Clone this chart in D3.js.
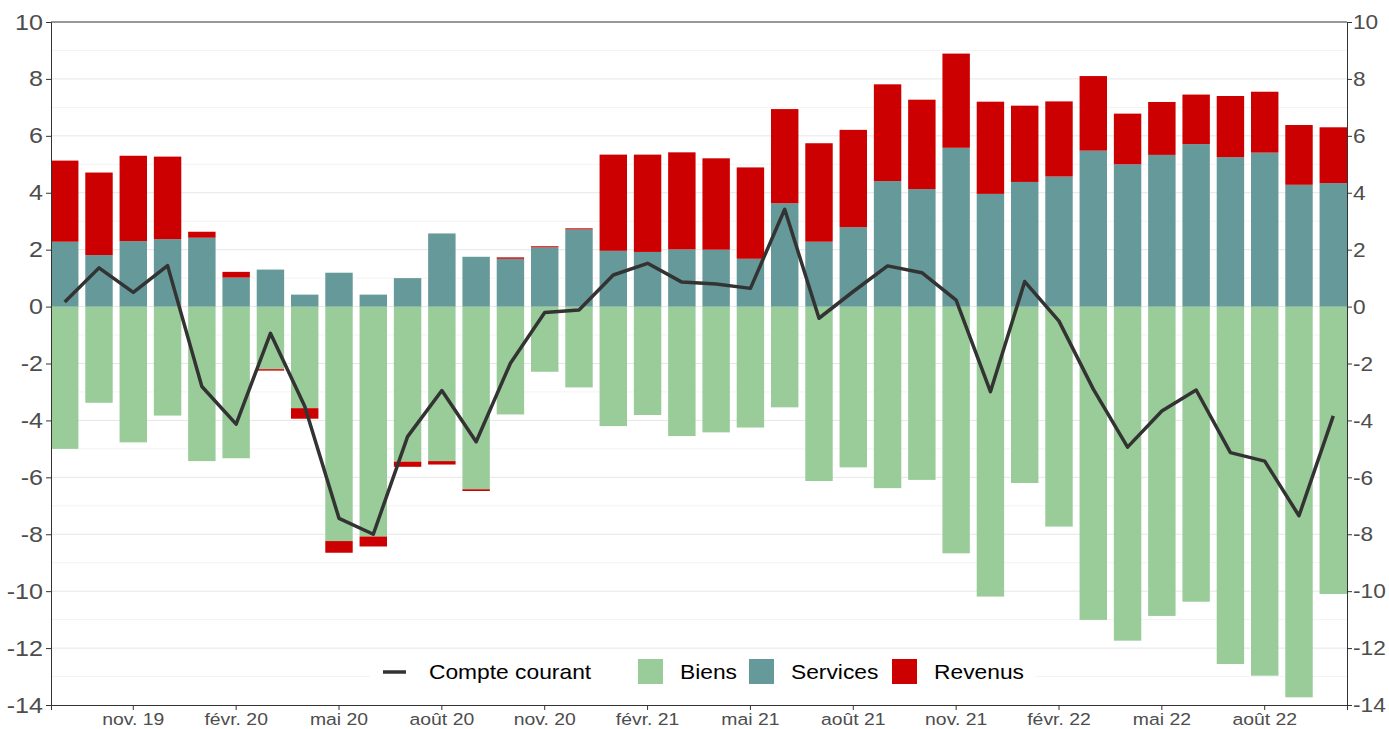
<!DOCTYPE html>
<html lang="fr">
<head>
  <meta charset="UTF-8">
  <title>Balance courante</title>
  <script src="https://d3js.org/d3.v7.min.js"></script>
  <style>
    body { margin: 0; background: #fff; }
    svg { font-family: "Liberation Sans", Arial, sans-serif; }
    .tick text { fill: #4d4d4d; }
    /* the original picture is a little wider than tall, so stretch text a bit */
    .stretch text, text.stretch { transform-box: fill-box; transform: scaleX(1.14); }
    .y-left text { transform-origin: 100% 50%; }
    .y-right text { transform-origin: 0 50%; transform: scaleX(1.08); }
    .x-axis text { transform-origin: 50% 50%; }
    text.stretch { transform-origin: 0 50%; }
  </style>
</head>
<body>
  <div id="chart"></div>

  <script>
    // Data, in points
    const months = ["2019-09","2019-10","2019-11","2019-12","2020-01","2020-02","2020-03","2020-04",
      "2020-05","2020-06","2020-07","2020-08","2020-09","2020-10","2020-11","2020-12",
      "2021-01","2021-02","2021-03","2021-04","2021-05","2021-06","2021-07","2021-08",
      "2021-09","2021-10","2021-11","2021-12","2022-01","2022-02","2022-03","2022-04",
      "2022-05","2022-06","2022-07","2022-08","2022-09","2022-10"];
    const biens = [-5.00,-3.38,-4.77,-3.83,-5.43,-5.33,-2.20,-3.57,-8.24,-8.08,-5.45,-5.43,-6.42,-3.79,-2.29,-2.84,
      -4.20,-3.81,-4.55,-4.42,-4.25,-3.54,-6.13,-5.65,-6.38,-6.09,-8.67,-10.19,-6.20,-7.73,-11.01,-11.74,
      -10.87,-10.37,-12.56,-12.97,-13.73,-10.10];
    const services = [2.28,1.81,2.30,2.37,2.42,1.02,1.30,0.42,1.19,0.42,1.00,2.57,1.75,1.68,2.08,2.71,
      1.96,1.92,2.01,2.00,1.68,3.63,2.28,2.79,4.41,4.13,5.58,3.96,4.38,4.57,5.48,5.00,
      5.33,5.71,5.25,5.41,4.28,4.34];
    const revenus = [2.85,2.90,3.00,2.90,0.21,0.20,-0.05,-0.37,-0.41,-0.35,-0.18,-0.12,-0.06,0.05,0.04,0.04,
      3.38,3.42,3.41,3.21,3.21,3.31,3.46,3.42,3.40,3.14,3.31,3.24,2.68,2.64,2.62,1.78,
      1.86,1.74,2.15,2.14,2.10,1.96];
    const compte = [0.16,1.36,0.50,1.44,-2.81,-4.13,-0.94,-3.50,-7.44,-8.00,-4.57,-2.95,-4.75,-1.99,-0.21,-0.12,
      1.11,1.52,0.86,0.79,0.64,3.42,-0.41,0.53,1.43,1.19,0.23,-2.99,0.88,-0.51,-2.90,-4.94,
      -3.67,-2.93,-5.13,-5.43,-7.35,-3.84];

    const tickMonths = ["2019-11","2020-02","2020-05","2020-08","2020-11","2021-02","2021-05","2021-08",
      "2021-11","2022-02","2022-05","2022-08"];
    const tickLabels = ["nov. 19","févr. 20","mai 20","août 20","nov. 20","févr. 21","mai 21","août 21",
      "nov. 21","févr. 22","mai 22","août 22"];

    const keys = ["Biens", "Services", "Revenus"];
    const colors = { Biens: "#99cc99", Services: "#669999", Revenus: "#cc0000" };

    const width = 1389, height = 729;
    const margin = { top: 22, right: 42, bottom: 24, left: 51 };

    const svg = d3.select("#chart").append("svg")
      .attr("width", width)
      .attr("height", height);

    const x = d3.scaleBand()
      .domain(months)
      .range([margin.left, width - margin.right])
      .paddingInner(0.2)
      .paddingOuter(0);

    const y = d3.scaleLinear()
      .domain([-14, 10])
      .range([height - margin.bottom, margin.top]);

    // grid lines
    const grid = svg.append("g");
    grid.selectAll(".minor")
      .data(d3.range(-13, 10, 2))
      .enter().append("line")
      .attr("x1", margin.left).attr("x2", width - margin.right)
      .attr("y1", d => y(d)).attr("y2", d => y(d))
      .attr("stroke", "#f3f3f3").attr("stroke-width", 1);
    grid.selectAll(".major")
      .data(d3.range(-12, 10, 2))
      .enter().append("line")
      .attr("x1", margin.left).attr("x2", width - margin.right)
      .attr("y1", d => y(d)).attr("y2", d => y(d))
      .attr("stroke", "#e6e6e6").attr("stroke-width", 1);

    // stacked bars
    const rows = months.map((m, i) => ({ month: m, Biens: biens[i], Services: services[i], Revenus: revenus[i] }));
    const series = d3.stack().keys(keys).offset(d3.stackOffsetDiverging)(rows);

    svg.append("g")
      .selectAll("g")
      .data(series)
      .enter().append("g")
      .attr("fill", d => colors[d.key])
      .selectAll("rect")
      .data(d => d)
      .enter().append("rect")
      .attr("x", d => x(d.data.month))
      .attr("width", x.bandwidth())
      .attr("y", d => y(Math.max(d[0], d[1])))
      .attr("height", d => Math.abs(y(d[0]) - y(d[1])));

    // current account line
    const line = d3.line()
      .x((d, i) => x(months[i]) + x.bandwidth() / 2)
      .y(d => y(d));

    svg.append("path")
      .datum(compte)
      .attr("fill", "none")
      .attr("stroke", "#333333")
      .attr("stroke-width", 3.5)
      .attr("stroke-linejoin", "round")
      .attr("d", line);

    // legend box
    const legend = svg.append("g");
    legend.append("rect")
      .attr("x", 370).attr("y", 652)
      .attr("width", 666).attr("height", 40)
      .attr("fill", "white");
    legend.append("line")
      .attr("x1", 383).attr("x2", 406)
      .attr("y1", 672).attr("y2", 672)
      .attr("stroke", "#333333").attr("stroke-width", 3.5);
    legend.append("text")
      .attr("class", "stretch")
      .attr("x", 429).attr("y", 679)
      .style("font-size", "20px")
      .text("Compte courant");
    const legendItems = [
      { key: "Biens", x: 638 },
      { key: "Services", x: 749 },
      { key: "Revenus", x: 892 }
    ];
    legendItems.forEach(it => {
      legend.append("rect")
        .attr("x", it.x).attr("y", 659)
        .attr("width", 25).attr("height", 25)
        .attr("fill", colors[it.key]);
      legend.append("text")
        .attr("class", "stretch")
        .attr("x", it.x + 42).attr("y", 679)
        .style("font-size", "20px")
        .text(it.key);
    });

    // axes (plain hyphen for the minus sign, as in the original)
    const yTicks = d3.range(-14, 11, 2);
    svg.append("g")
      .attr("class", "stretch y-left")
      .attr("transform", `translate(${margin.left},0)`)
      .call(d3.axisLeft(y).tickValues(yTicks).tickSize(5).tickPadding(3).tickFormat(d => String(d)))
      .call(g => g.selectAll("text").style("font-size", "22px"))
      .call(g => g.selectAll("line, path").attr("stroke", "#333"));

    svg.append("g")
      .attr("class", "stretch y-right")
      .attr("transform", `translate(${width - margin.right},0)`)
      .call(d3.axisRight(y).tickValues(yTicks).tickSize(5).tickPadding(1).tickFormat(d => String(d)))
      .call(g => g.selectAll("text").style("font-size", "21px"))
      .call(g => g.selectAll("line, path").attr("stroke", "#333"));

    svg.append("g")
      .attr("class", "stretch x-axis")
      .attr("transform", `translate(0,${height - margin.bottom})`)
      .call(d3.axisBottom(x).tickValues(tickMonths).tickSize(5).tickPadding(3)
        .tickFormat(d => tickLabels[tickMonths.indexOf(d)]))
      .call(g => g.selectAll("text").style("font-size", "17px"))
      .call(g => g.selectAll("line, path").attr("stroke", "#333"));

    // top border
    svg.append("line")
      .attr("x1", margin.left).attr("x2", width - margin.right)
      .attr("y1", margin.top).attr("y2", margin.top)
      .attr("stroke", "#333");
  </script>
</body>
</html>
